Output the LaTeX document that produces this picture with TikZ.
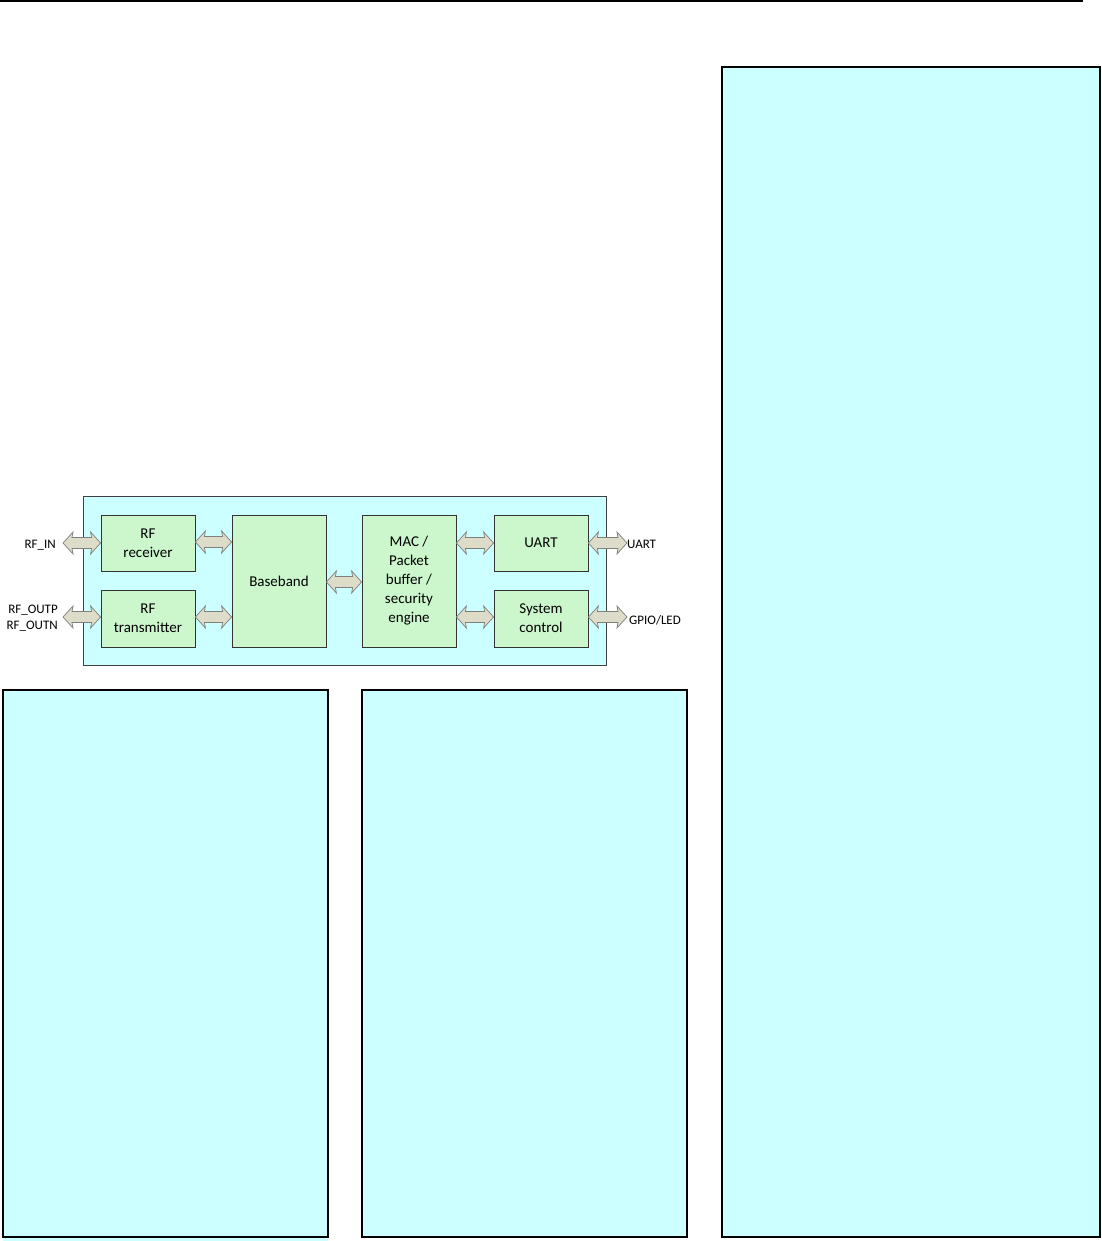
\documentclass[tikz,border=0pt]{standalone}
\usepackage{fontspec}
\setmainfont{Carlito}
\usetikzlibrary{calc}
\definecolor{panelcyan}{HTML}{CCFFFF}
\definecolor{boxgreen}{HTML}{CCF7CC}
\definecolor{arrowfill}{HTML}{DCDCC8}
\definecolor{arrowline}{HTML}{7F7F7F}
\tikzset{
  blk/.style={draw=black!80, line width=0.8pt, fill=boxgreen, align=center,
    font=\fontsize{15}{19}\selectfont, inner sep=0pt},
  lbl/.style={font=\fontsize{13}{16}\selectfont, inner sep=0pt, align=right},
  panel/.style={draw=black, line width=1.8pt, fill=panelcyan},
  barrow/.style={draw=arrowline, line width=0.7pt, fill=arrowfill, line join=miter}
}
% horizontal double block arrow between two points (same y taken from first)
\newcommand\blockarrow[2]{%
  \path let \p1=#1, \p2=#2 in
    [barrow] (\x1,\y1) -- (\x1+10pt,\y1+11pt) -- (\x1+9pt,\y1+5.5pt) -- (\x2-9pt,\y1+5.5pt)
    -- (\x2-10pt,\y1+11pt) -- (\x2,\y1) -- (\x2-10pt,\y1-11pt) -- (\x2-9pt,\y1-5.5pt)
    -- (\x1+9pt,\y1-5.5pt) -- (\x1+10pt,\y1-11pt) -- cycle;}
\begin{document}
\begin{tikzpicture}[x=1pt,y=-1pt]
\useasboundingbox (0,0) rectangle (1101,1241);
% top rule
\draw[line width=1.5pt] (0,1) -- (1083,1);
% panels
\fill[panelcyan] (3,1236) rectangle (328,1241);
\draw[panel] (3,690) rectangle (328,1237);
\draw[panel] (362,690) rectangle (687,1237);
\draw[panel] (722,67) rectangle (1100,1237);
% block diagram
\draw[fill=panelcyan, draw=black!75, line width=0.8pt] (83,496) rectangle (606,665);
\node[blk, minimum width=94pt, minimum height=56pt] (rx) at (148,543) {RF\\receiver};
\node[blk, minimum width=94pt, minimum height=57pt] (tx) at (148,618.5) {RF\\transmitter};
\node[blk, minimum width=94pt, minimum height=132pt] (bb) at (279,581) {Baseband};
\node[blk, minimum width=94pt, minimum height=132pt] (mac) at (409,581) {MAC /\\Packet\\buffer /\\security\\engine};
\node[blk, minimum width=94pt, minimum height=56pt] (uart) at (541,543) {UART};
\node[blk, minimum width=94pt, minimum height=57pt] (sys) at (541,618.5) {System\\control};
% external ends
\coordinate (rfin) at (63,543);
\coordinate (rfout) at (63,617);
\coordinate (uartout) at (627,543);
\coordinate (gpioout) at (627,617);
% labels
\node[lbl, anchor=east] (lrfin) at (56,545) {RF\_IN};
\node[lbl, anchor=east] (lrfout) at (58,618) {RF\_OUTP\\RF\_OUTN};
\node[lbl, anchor=west] (luart) at (627,544) {UART};
\node[lbl, anchor=west] (lgpio) at (629,620) {GPIO/LED};
% arrows
\blockarrow{(rfin)}{(rx.west |- rfin)}
\blockarrow{(rfout)}{(tx.west |- rfout)}
\blockarrow{(rx.east |- 0,542)}{(bb.west |- 0,542)}
\blockarrow{(tx.east |- 0,617)}{(bb.west |- 0,617)}
\blockarrow{(bb.east |- 0,582)}{(mac.west |- 0,582)}
\blockarrow{(mac.east |- 0,543)}{(uart.west |- 0,543)}
\blockarrow{(mac.east |- 0,617)}{(sys.west |- 0,617)}
\blockarrow{(uart.east |- uartout)}{(uartout)}
\blockarrow{(sys.east |- gpioout)}{(gpioout)}
\end{tikzpicture}
\end{document}
